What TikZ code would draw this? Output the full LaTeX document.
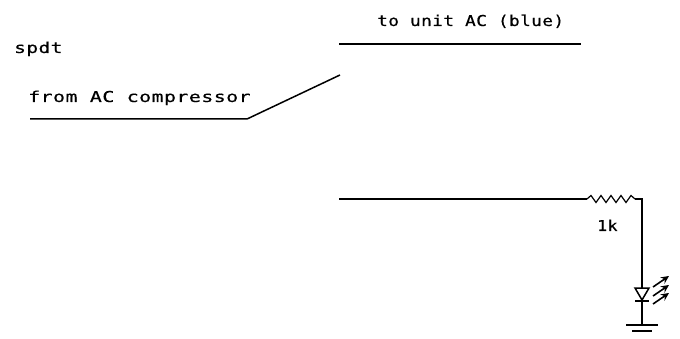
\documentclass[tikz,border=0pt]{standalone}
\usepackage{graphicx}
\usepackage{fontspec}
\setmonofont[FakeStretch=1.3,LetterSpace=3,FakeBold=0.4]{DejaVu Sans Mono}
\usetikzlibrary{arrows.meta}
\tikzset{
  wire/.style={draw=black,line width=1.5pt,line join=miter},
  thin wire/.style={draw=black,line width=1.2pt},
  lab/.style={font=\ttfamily\fontsize{15}{15}\selectfont,text=black,inner sep=0pt,anchor=base west},
  ray/.style={draw=black,line width=1.6pt,-{Stealth[length=8pt,width=7.5pt]}}
}
\begin{document}
\begin{tikzpicture}[x=1pt,y=-1pt]
\useasboundingbox (0,0) rectangle (680,339);
\fill[white] (0,0) rectangle (680,339);
% switch
\coordinate (comA) at (30,119);
\coordinate (comB) at (247,119);
\coordinate (blade) at (340,75);
\coordinate (upA) at (339,44);
\coordinate (upB) at (581,44);
\coordinate (loA) at (339,199);
\coordinate (rIn) at (587,199);
\coordinate (rOut) at (635,199);
\coordinate (corner) at (642,199);
\coordinate (ledTop) at (642,288);
\coordinate (ledTip) at (642,300);
\coordinate (gnd) at (642,325);
\draw[wire] (comA) -- (comB) -- (blade);
\draw[wire] (upA) -- (upB);
\draw[wire] (loA) -- (rIn);
\draw[thin wire] (rIn) -- ++(4,-3.5) -- ++(5,7) -- ++(5,-7) -- ++(5,7) -- ++(5,-7) -- ++(5,7) -- ++(5,-7) -- ++(5,7) -- ++(5,-7) -- ++(4,3.5) -- (rOut);
\draw[wire] (rOut) -- (corner) -- (ledTop);
% LED
\draw[wire,line join=miter] (635,288) -- (649,288) -- (ledTip) -- cycle;
\draw[wire] (635,301) -- (649,301);
\draw[wire] (ledTip) -- (gnd);
\draw[ray] (653,287) -- (669,276);
\draw[ray] (653,296) -- (669,285);
\draw[ray] (653,304) -- (669,293);
% ground
\draw[wire] (626,325) -- (658,325);
\draw[wire] (632,331) -- (652,331);
% labels
\node[lab] (spdt) at (14,53) {spdt};
\node[lab] (from) at (28,102) {\scalebox{1.02}[1]{from AC compressor}};
\node[lab] (to) at (377,26) {\scalebox{0.91}[1]{to unit AC (blue)}};
\node[lab] (rval) at (597,231) {\scalebox{0.85}[1]{1k}};
\end{tikzpicture}
\end{document}
